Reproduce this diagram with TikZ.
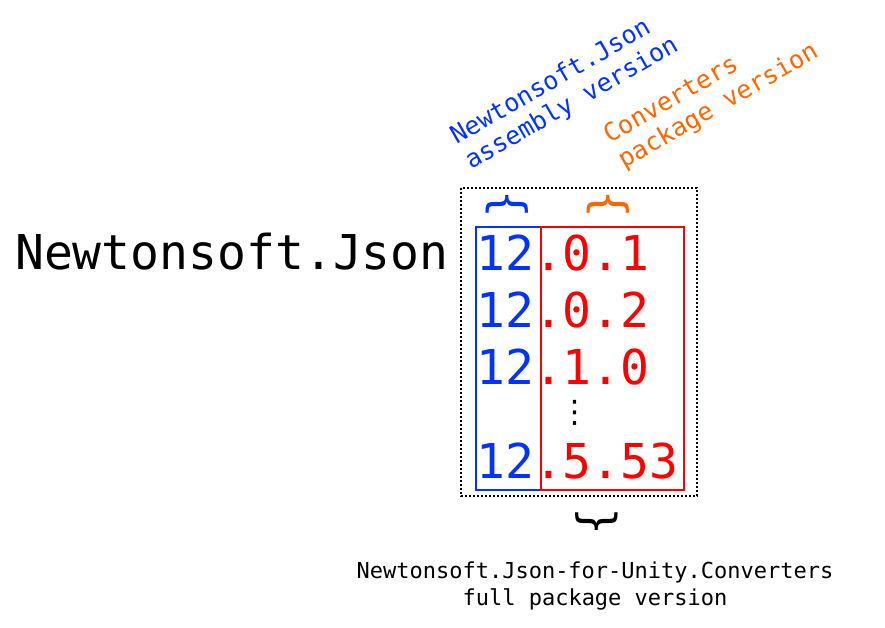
\documentclass[tikz,border=0pt]{standalone}
\usepackage{fontspec}
\setmainfont{DejaVu Sans Mono}
\newfontfamily\dejavu{DejaVu Sans}
\definecolor{vblue}{RGB}{0,51,255}
\definecolor{vorange}{RGB}{255,102,0}
\definecolor{vred}{RGB}{255,0,0}
\tikzset{
  bigtxt/.style={inner sep=0pt, anchor=base west, font=\fontsize{48}{56}\selectfont},
  rowtxt/.style={inner sep=0pt, anchor=base west, font=\fontsize{48}{56}\selectfont},
  rottxt/.style={inner sep=0pt, anchor=base west, rotate=30, align=left, font=\fontsize{25}{29}\selectfont},
  bracetxt/.style={inner sep=0pt, font=\fontsize{46}{50}\selectfont},
  boxline/.style={line width=2pt},
}
\begin{document}
\begin{tikzpicture}[x=1pt,y=-1pt]
\useasboundingbox (0,0) rectangle (885,628);
% left label
\node[bigtxt] (nj) at (15,269) {Newtonsoft.Json};
% dotted frame
\draw[line width=2pt, dotted] (461,188) rectangle (697,496);
% columns
\node[draw=vblue, boxline, minimum width=65pt, minimum height=263pt, inner sep=0pt, anchor=north west] (bbox) at (475,226) {};
\node[draw=vred, boxline, minimum width=143pt, minimum height=263pt, inner sep=0pt, anchor=north west] (rbox) at (540,226) {};
% rows
\node[rowtxt] (r1) at (476,270) {\textcolor{vblue}{12}\textcolor{vred}{.0.1}};
\node[rowtxt] (r2) at (476,327) {\textcolor{vblue}{12}\textcolor{vred}{.0.2}};
\node[rowtxt] (r3) at (476,384) {\textcolor{vblue}{12}\textcolor{vred}{.1.0}};
\node[inner sep=0pt, font=\dejavu\fontsize{31}{31}\selectfont] (dots) at (575,413) {⋮};
\node[rowtxt] (r5) at (476,478) {\textcolor{vblue}{12}\textcolor{vred}{.5.53}};
% braces
\node[bracetxt, text=vblue, rotate=-90] (bb) at (507,204) {\{};
\node[bracetxt, text=vorange, rotate=-90] (ob) at (608,204) {\{};
\node[bracetxt, rotate=90] (kb) at (597,522) {\{};
% rotated labels
\node[rottxt, text=vblue] (bl) at (471,170) {Newtonsoft.Json\\assembly version};
\node[rottxt, text=vorange] (ol) at (624,169) {Converters\\package version};
% bottom label
\node[inner sep=0pt, align=center, anchor=base, font=\fontsize{22}{27}\selectfont] (bot) at (595,605) {Newtonsoft.Json-for-Unity.Converters\\full package version};
\end{tikzpicture}
\end{document}
